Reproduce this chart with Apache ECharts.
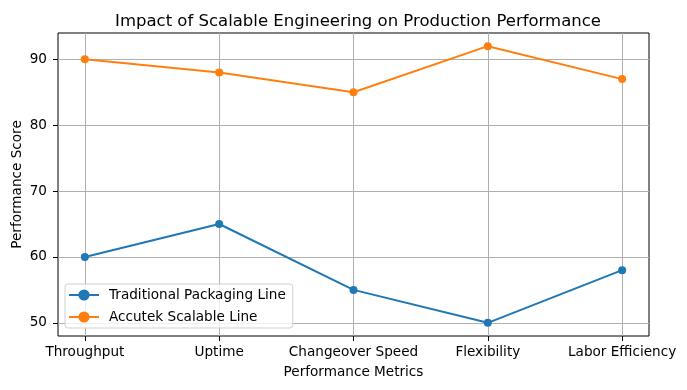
<!DOCTYPE html>
<html><head><meta charset="utf-8">
<script src="https://cdn.jsdelivr.net/npm/echarts@6/dist/echarts.min.js"></script>
<style>html,body{margin:0;padding:0;background:#fff}#c{width:687px;height:390px}</style>
</head><body><div id="c"></div>
<script>
const categories = ["Throughput", "Uptime", "Changeover Speed", "Flexibility", "Labor Efficiency"];
const traditional = [60, 65, 55, 50, 58];
const accutek = [90, 88, 85, 92, 87];
const yTicks = [50, 60, 70, 80, 90];
const seriesNames = ["Traditional Packaging Line", "Accutek Scalable Line"];

const font = "DejaVu Sans";
const chart = echarts.init(document.getElementById('c'), null, {renderer: 'canvas'});
const xIdx = categories.map((_, i) => i);
function mk(name, vals, color) {
  return {
    name: name, type: 'line', data: vals.map((v, i) => [i, v]),
    symbol: 'circle', symbolSize: 8, lineStyle: {width: 2, color: color},
    itemStyle: {color: color}, color: color, animation: false, z: 5
  };
}
chart.setOption({
  animation: false,
  title: {text: "Impact of Scalable Engineering on Production Performance", left: 353, top: 8, textAlign: 'center',
    textStyle: {fontFamily: font, fontSize: 16.5, fontWeight: 'normal', color: '#000'}},
  grid: {left: 58, right: 38, top: 33, bottom: 54, show: true, borderColor: '#000', borderWidth: 1,
    containLabel: false, outerBoundsMode: 'none'},
  legend: {left: 65, top: 284, orient: 'vertical', itemGap: 8, itemWidth: 30, itemHeight: 14,
    backgroundColor: 'rgba(255,255,255,0.8)', borderColor: '#d0d0d0', borderWidth: 1, borderRadius: 3, padding: [4, 7, 4, 3],
    textStyle: {fontFamily: font, fontSize: 13.6, color: '#000', padding: [0, 0, 0, 5]}, data: seriesNames},
  xAxis: {type: 'value', min: -0.2, max: 4.2, name: 'Performance Metrics', nameLocation: 'middle', nameGap: 29,
    nameMoveOverlap: false,
    nameTextStyle: {fontFamily: font, fontSize: 13.6, color: '#000'},
    axisLine: {show: false, onZero: false},
    axisTick: {show: true, length: 5, customValues: xIdx, lineStyle: {color: '#000'}},
    axisLabel: {customValues: xIdx, formatter: v => categories[Math.round(v)] || '', fontFamily: font, fontSize: 13.6, color: '#000', margin: 9},
    splitLine: {show: true, lineStyle: {color: '#b0b0b0', width: 1}}},
  yAxis: {type: 'value', min: 48, max: 94, name: 'Performance Score', nameLocation: 'middle', nameGap: 34,
    nameMoveOverlap: false,
    nameTextStyle: {fontFamily: font, fontSize: 13.6, color: '#000'},
    axisLine: {show: false, onZero: false},
    axisTick: {show: true, length: 5, customValues: yTicks, lineStyle: {color: '#000'}},
    axisLabel: {customValues: yTicks, fontFamily: font, fontSize: 13.6, color: '#000', margin: 11},
    splitLine: {show: true, lineStyle: {color: '#b0b0b0', width: 1}}},
  series: [mk(seriesNames[0], traditional, '#1f77b4'), mk(seriesNames[1], accutek, '#ff7f0e')]
});
</script></body></html>
